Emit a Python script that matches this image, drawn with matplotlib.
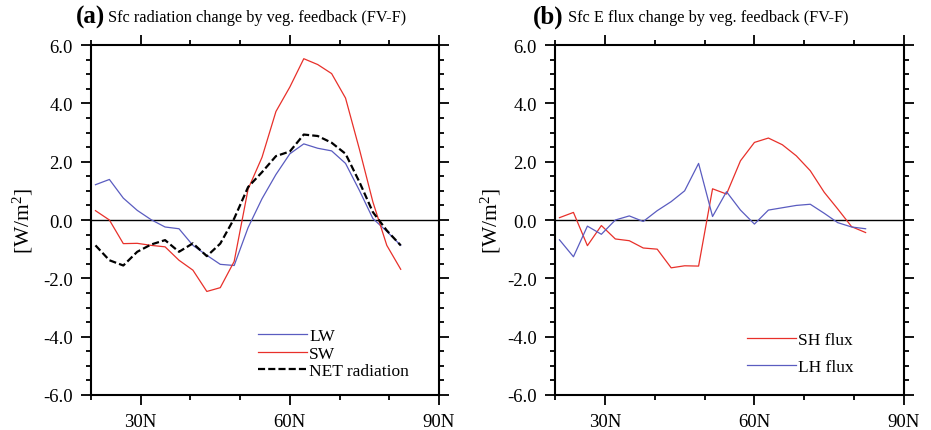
import matplotlib
matplotlib.use("Agg")
import matplotlib.pyplot as plt
from matplotlib.ticker import MultipleLocator, FixedLocator

plt.rcParams["font.family"] = ["Liberation Serif", "DejaVu Serif"]
plt.rcParams["mathtext.fontset"] = "custom"
plt.rcParams["mathtext.rm"] = "Liberation Serif"
plt.rcParams["mathtext.it"] = "Liberation Serif:italic"

# Data (latitudes of the model grid, ~2.8 deg spacing)
lats = [20.9, 23.7, 26.5, 29.3, 32.1, 34.9, 37.7, 40.5, 43.3, 46.0, 48.8, 51.6,
        54.4, 57.2, 60.0, 62.8, 65.6, 68.4, 71.2, 74.0, 76.7, 79.5, 82.3]

lw_rad = [1.21, 1.39, 0.75, 0.33, 0.01, -0.24, -0.30, -0.87, -1.21, -1.52, -1.56, -0.26,
          0.73, 1.56, 2.27, 2.61, 2.46, 2.37, 1.94, 1.01, 0.05, -0.39, -0.87]
sw_rad = [0.32, 0.00, -0.81, -0.80, -0.87, -0.92, -1.38, -1.72, -2.45, -2.32, -1.42, 1.06,
          2.15, 3.72, 4.56, 5.53, 5.33, 5.02, 4.18, 2.42, 0.62, -0.87, -1.69]
net_rad = [-0.87, -1.38, -1.56, -1.09, -0.84, -0.69, -1.09, -0.80, -1.24, -0.81, 0.05, 1.13,
           1.64, 2.19, 2.35, 2.93, 2.88, 2.65, 2.27, 1.30, 0.27, -0.36, -0.87]

sh_flux = [0.08, 0.26, -0.88, -0.19, -0.65, -0.71, -0.96, -1.00, -1.64, -1.57, -1.58, 1.07,
           0.89, 2.03, 2.66, 2.81, 2.58, 2.20, 1.69, 0.95, 0.38, -0.23, -0.43]
lh_flux = [-0.68, -1.26, -0.21, -0.49, 0.00, 0.14, -0.05, 0.32, 0.63, 1.00, 1.94, 0.12,
           0.97, 0.34, -0.14, 0.34, 0.42, 0.50, 0.54, 0.23, -0.09, -0.24, -0.30]

xticks = [30, 60, 90]
xticklabels = ["30N", "60N", "90N"]
yticks = [-6, -4, -2, 0, 2, 4, 6]

red = "#e8302a"
blue = "#5a5cc0"

fig = plt.figure(figsize=(9.31, 4.31), dpi=100)
W, H = 931, 431


def make_axes(x0, x1, y0, y1):
    return fig.add_axes([x0 / W, 1 - y1 / H, (x1 - x0) / W, (y1 - y0) / H])


def style(ax):
    ax.set_xlim(20, 90)
    ax.set_ylim(-6, 6)
    ax.xaxis.set_major_locator(FixedLocator(xticks))
    ax.set_xticklabels(xticklabels)
    ax.xaxis.set_minor_locator(FixedLocator([20, 40, 50, 70, 80]))
    ax.set_yticks(yticks)
    ax.set_yticklabels(["%.1f" % v for v in yticks])
    ax.yaxis.set_minor_locator(MultipleLocator(0.5))
    ax.tick_params(which="both", direction="out", top=True, right=True,
                   labelsize=13.5, width=1.3)
    ax.tick_params(which="major", length=7, pad=6)
    ax.tick_params(which="minor", length=3.5)
    for s in ax.spines.values():
        s.set_linewidth(1.5)
    ax.axhline(0, color="black", lw=1.0, zorder=1)
    ax.set_ylabel(r"[W/m$^{2}$]", fontsize=15.5)


# Panel (a)
ax1 = make_axes(91, 439, 46, 396)
style(ax1)
ax1.plot(lats, lw_rad, color=blue, lw=0.9, label="LW")
ax1.plot(lats, sw_rad, color=red, lw=0.9, label="SW")
ax1.plot(lats, net_rad, color="black", lw=1.6, dashes=(3.2, 1.4), label="NET radiation")
ax1.yaxis.set_label_coords(-0.16, 0.5)
ax1.legend(loc="upper left", bbox_to_anchor=(0.48, 0.191), frameon=False,
           fontsize=12.5, handlelength=2.8, handletextpad=0.15, labelspacing=0.07,
           borderpad=0, borderaxespad=0)

# Panel (b)
ax2 = make_axes(555, 904, 46, 396)
style(ax2)
ax2.plot(lats, sh_flux, color=red, lw=0.9, label="SH flux")
ax2.plot(lats, lh_flux, color=blue, lw=0.9, label="LH flux")
ax2.yaxis.set_label_coords(-0.149, 0.5)
ax2.legend(loc="upper left", bbox_to_anchor=(0.55, 0.18), frameon=False,
           fontsize=12.5, handlelength=2.8, handletextpad=0.15, labelspacing=0.63,
           borderpad=0, borderaxespad=0)

# Titles
fig.text(105 / W, 1 - 17 / H, "(a)", fontsize=18, fontweight="bold",
         va="center", ha="right")
fig.text(108 / W, 1 - 18 / H, "Sfc radiation change by veg. feedback (FV-F)",
         fontsize=11.7, va="center")
fig.text(563 / W, 1 - 17 / H, "(b)", fontsize=18, fontweight="bold",
         va="center", ha="right")
fig.text(568 / W, 1 - 18 / H, "Sfc E flux change by veg. feedback (FV-F)",
         fontsize=11.7, va="center")

fig.savefig("out.png", dpi=100)
